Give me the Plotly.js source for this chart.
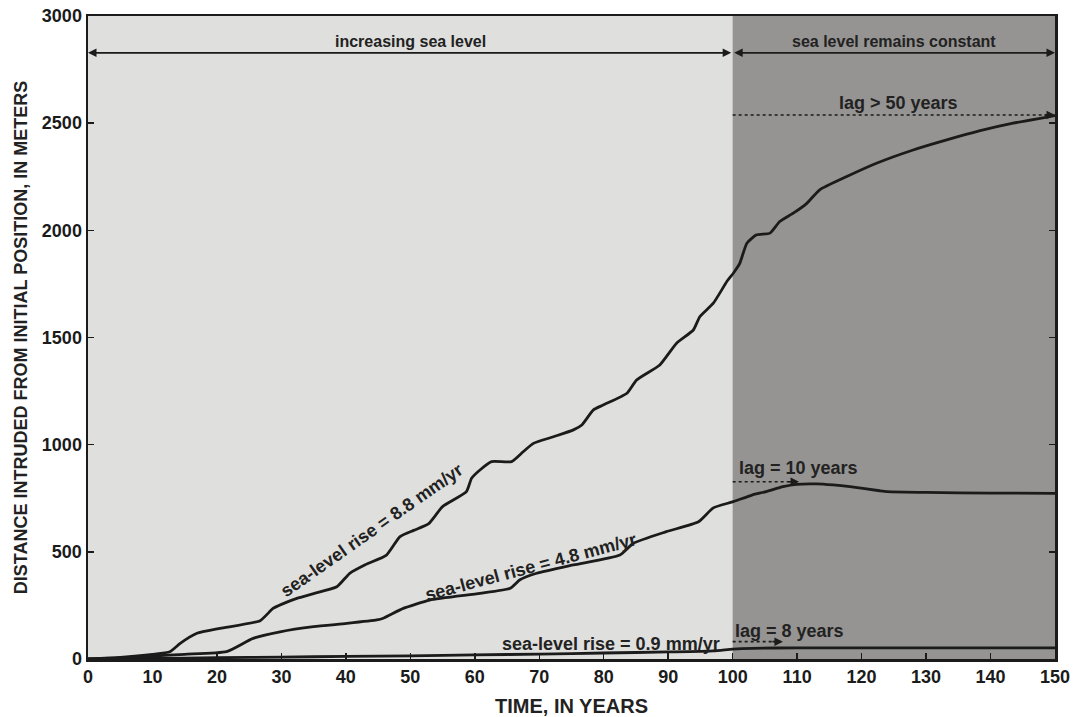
<!DOCTYPE html>
<html>
<head>
<meta charset="utf-8">
<script src="https://cdn.plot.ly/plotly-3.0.1.min.js"></script>
<style>html,body{margin:0;padding:0;background:#fff;}#chart{width:1073px;height:717px;}</style>
</head>
<body>
<div id="chart"></div>
<script>
// Time (years) and distance intruded (m) for each sea-level-rise scenario
const t88 = [0,5,10,12.7,14.3,16.9,20.5,26.7,28.7,30,32.4,35,38.6,40.6,43,46.3,48.4,50.5,52.8,55,58.7,59.5,60.8,62.6,65.7,67.5,69.1,72.2,75.3,76.6,78.4,79.9,83.6,85.1,88.7,91.3,93.9,94.9,97,99.1,100.1,101.1,102.2,103.7,105.8,107.3,109.4,111.5,113.5,117.7,122.3,128,133.2,138.4,143.5,149.2,150];
const v88 = [0,8,22,34,73,120,143,179,236,255,283,305,337,400,440,485,571,600,630,711,781,843,882,921,921,967,1006,1037,1069,1092,1162,1185,1240,1302,1372,1473,1535,1597,1660,1761,1800,1846,1940,1979,1987,2041,2080,2126,2189,2251,2313,2375,2422,2465,2500,2531,2535];

const t48 = [0,5,10,15,21.5,25.6,29.8,35,40.1,44.8,45.8,48.9,53,60.8,65.5,67,69.6,75.3,82.5,84.6,89.7,94.7,97,100.1,103,105.2,107.8,109.9,113,115.6,118.2,122.8,124,130,140,150];
const v48 = [0,5,14,22,34,96,127,151,166,182,190,236,275,306,330,370,400,439,485,540,594,640,705,734,765,781,804,815,817,812,804,785,781,777,774,773];

const t09 = [0,10,20,30,40,50,60,70,80,90,97,100,103,110,120,150];
const v09 = [0,3,6,9,12,15,19,23,28,33,38,46,50,52,52,52];

const seriesNames = ["sea-level rise = 8.8 mm/yr","sea-level rise = 4.8 mm/yr","sea-level rise = 0.9 mm/yr"];
const periodLabels = ["increasing sea level","sea level remains constant"];
const lagLabels = ["lag > 50 years","lag = 10 years","lag = 8 years"];
const xTicks = [0,10,20,30,40,50,60,70,80,90,100,110,120,130,140,150];
const yTicks = [0,500,1000,1500,2000,2500,3000];

const lineStyle = {color:'#1b1b1b', width:2.8, shape:'spline', smoothing:0.5};
const traces = [
  {x:t88, y:v88, mode:'lines', line:lineStyle, name:seriesNames[0]},
  {x:t48, y:v48, mode:'lines', line:lineStyle, name:seriesNames[1]},
  {x:t09, y:v09, mode:'lines', line:lineStyle, name:seriesNames[2]}
];

const txtFont = {family:'"Liberation Sans", Arial, sans-serif', size:16, color:'#222', weight:'bold'};
const F = (o)=>Object.assign({}, txtFont, o||{});

const annotations = [
  // period labels
  {x:50, y:2880, xref:'x', yref:'y', text:periodLabels[0], showarrow:false, font:F({size:16})},
  {x:125, y:2880, xref:'x', yref:'y', text:periodLabels[1], showarrow:false, font:F({size:16})},
  // double arrows
  {x:0, y:2828, ax:100, ay:2828, xref:'x', yref:'y', axref:'x', ayref:'y', text:'', showarrow:true, arrowhead:2, arrowside:'end+start', arrowsize:1, arrowwidth:1.7, arrowcolor:'#1b1b1b'},
  {x:150, y:2828, ax:100, ay:2828, xref:'x', yref:'y', axref:'x', ayref:'y', text:'', showarrow:true, arrowhead:2, arrowside:'end+start', arrowsize:1, arrowwidth:1.7, arrowcolor:'#1b1b1b'},
  // lag labels
  {x:125.8, y:2595, xref:'x', yref:'y', text:lagLabels[0], showarrow:false, font:F({size:18})},
  {x:100.6, y:890, xref:'x', yref:'y', text:lagLabels[1], showarrow:false, xanchor:'left', font:F({size:18})},
  {x:100.0, y:130, xref:'x', yref:'y', text:lagLabels[2], showarrow:false, xanchor:'left', font:F({size:18})},
  // arrowheads for the dotted lag lines
  {x:150, y:2538, ax:-12, ay:0, xref:'x', yref:'y', text:'', showarrow:true, arrowhead:2, arrowsize:1, arrowwidth:1.7, arrowcolor:'#1b1b1b'},
  {x:110.3, y:827, ax:-12, ay:0, xref:'x', yref:'y', text:'', showarrow:true, arrowhead:2, arrowsize:1, arrowwidth:1.7, arrowcolor:'#1b1b1b'},
  {x:107.8, y:81, ax:-12, ay:0, xref:'x', yref:'y', text:'', showarrow:true, arrowhead:2, arrowsize:1, arrowwidth:1.7, arrowcolor:'#1b1b1b'},
  // curve labels
  {x:44.1, y:600, xref:'x', yref:'y', text:seriesNames[0], showarrow:false, textangle:-35, font:F({size:18})},
  {x:68.7, y:428, xref:'x', yref:'y', text:seriesNames[1], showarrow:false, textangle:-15, font:F({size:18})},
  {x:81.1, y:72, xref:'x', yref:'y', text:seriesNames[2], showarrow:false, font:F({size:18})}
];

const shapes = [
  {type:'rect', xref:'x', yref:'paper', x0:0, x1:100, y0:0, y1:1, fillcolor:'#dfdfdd', line:{width:0}, layer:'below'},
  {type:'rect', xref:'x', yref:'paper', x0:100, x1:150, y0:0, y1:1, fillcolor:'#959492', line:{width:0}, layer:'below'},
  {type:'line', xref:'x', yref:'y', x0:100, x1:149, y0:2538, y1:2538, line:{color:'#1b1b1b', width:1.7, dash:'dot'}},
  {type:'line', xref:'x', yref:'y', x0:100, x1:109.5, y0:827, y1:827, line:{color:'#1b1b1b', width:1.7, dash:'dot'}},
  {type:'line', xref:'x', yref:'y', x0:100, x1:107, y0:81, y1:81, line:{color:'#1b1b1b', width:1.7, dash:'dot'}}
];

const tickFont = {family:'"Liberation Sans", Arial, sans-serif', size:18, color:'#1b1b1b', weight:'bold'};
const layout = {
  width:1073, height:717,
  margin:{l:88, r:18, t:16, b:58},
  paper_bgcolor:'#ffffff', plot_bgcolor:'#dfdfdd',
  showlegend:false,
  font:txtFont,
  xaxis:{range:[0,150], tickvals:xTicks, ticktext:xTicks.map(String), ticks:'inside', ticklen:6, tickwidth:1.5, tickcolor:'#1b1b1b',
    showline:true, linecolor:'#1b1b1b', linewidth:2.5, mirror:true, showgrid:false, zeroline:false, tickfont:tickFont,
    title:{text:'TIME, IN YEARS', font:F({size:20}), standoff:14}},
  yaxis:{range:[0,3000], tickvals:yTicks, ticktext:yTicks.map(String), ticks:'inside', ticklen:6, tickwidth:1.5, tickcolor:'#1b1b1b',
    showline:true, linecolor:'#1b1b1b', linewidth:2.5, mirror:'ticks', showgrid:false, zeroline:false, tickfont:tickFont,
    title:{text:'DISTANCE INTRUDED FROM INITIAL POSITION, IN METERS', font:F({size:18}), standoff:10}},
  shapes:shapes,
  annotations:annotations
};

Plotly.newPlot('chart', traces, layout, {displayModeBar:false, staticPlot:true});
</script>
</body>
</html>
